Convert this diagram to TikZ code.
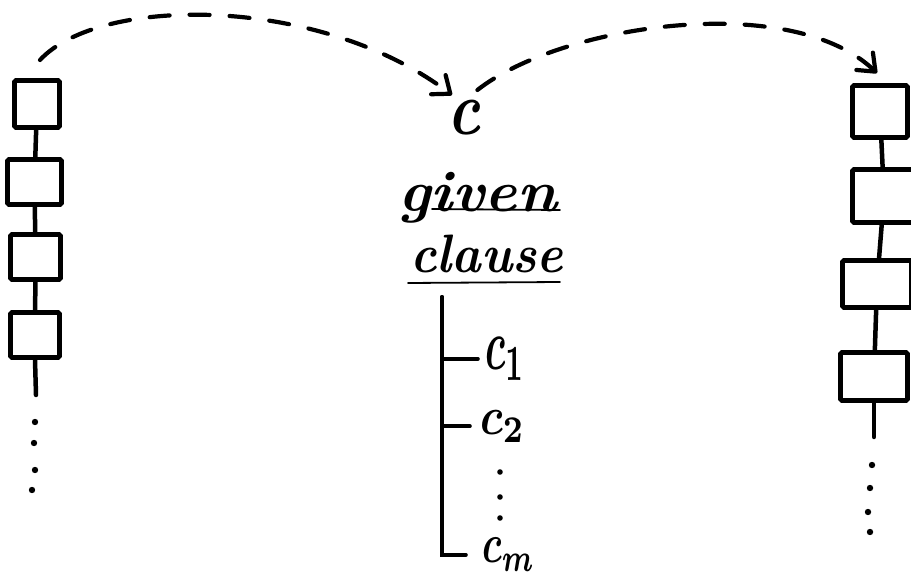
\documentclass[tikz,border=0pt]{standalone}
\usepackage{graphicx}
\usetikzlibrary{arrows.meta,calc}
\tikzset{
  box/.style={draw, line width=4.8pt, inner sep=0pt, rounded corners=1.5pt},
  link/.style={line width=4.5pt, line cap=round},
  dasharrow/.style={line width=4.2pt, line cap=round, dash pattern=on 20pt off 20pt,
    -{Straight Barb[length=15pt,width=24pt,round]}},
  txt/.style={inner sep=0pt, anchor=north west},
  treeline/.style={line width=3.6pt, line cap=round},
  uline/.style={line width=1.8pt, line cap=round},
}
\begin{document}
\begin{tikzpicture}[x=1pt,y=-1pt]
\useasboundingbox (0,0) rectangle (911,577);
\clip (0,0) rectangle (911,577);

% left column
\node[box, minimum width=45pt, minimum height=47pt] (L1) at (37,104) {};
\node[box, minimum width=54pt, minimum height=45pt] (L2) at (34.5,182) {};
\node[box, minimum width=50pt, minimum height=45pt] (L3) at (35.5,257) {};
\node[box, minimum width=49pt, minimum height=45pt] (L4) at (35,335) {};
\coordinate (Lend) at (36,395);
\draw[link] (L1) -- (L2);
\draw[link] (L2) -- (L3);
\draw[link] (L3) -- (L4);
\draw[link] (L4.south) -- (Lend);
\fill (35,422) circle (3.2pt) (34,443) circle (3.2pt) (35,470) circle (3.2pt) (32,490) circle (3.2pt);

% right column
\node[box, minimum width=55pt, minimum height=52pt] (R1) at (880,111.5) {};
\node[box, minimum width=63pt, minimum height=53pt] (R2) at (884,196) {};
\node[box, minimum width=69pt, minimum height=47pt] (R3) at (877,284) {};
\node[box, minimum width=67pt, minimum height=48pt] (R4) at (874,376.5) {};
\coordinate (Rend) at (874,437);
\draw[link] (R1) -- (R2);
\draw[link] (R2) -- (R3);
\draw[link] (R3) -- (R4);
\draw[link] (R4.south) -- (Rend);
\fill (872,465) circle (3.2pt) (870,488) circle (3.2pt) (868,512) circle (3.2pt) (870,532) circle (3.2pt);

% given clause
\node[txt] (c) at (447,100) {\resizebox*{33pt}{35pt}{\bfseries\itshape c}};
\node[txt] (given) at (398,172) {\resizebox*{159pt}{51pt}{\bfseries\itshape given}};
\node[txt] (clause) at (410,235) {\resizebox*{153pt}{38pt}{\bfseries\itshape clause}};
\draw[uline] (432,209) -- (560,210);
\draw[uline] (408,283) -- (560,282);

% dashed arrows
\coordinate (a1s) at (40,60);
\draw[dasharrow] (a1s) .. controls (100,-5) and (320,-5) .. ($(c.north west)+(5,-5)$);
\draw[dasharrow] ($(c.north east)+(-3,-10)$) .. controls (560,25) and (790,-10) .. ($(R1.north)+(-3,-10)$);

% tree
\node[txt] (c1) at (485,337) {\resizebox*{40pt}{43pt}{\boldmath$c_1$}};
\node[txt] (c2) at (480,410) {\resizebox*{45pt}{32pt}{\boldmath$c_2$}};
\node[txt] (cm) at (482,538) {\resizebox*{53pt}{33pt}{\boldmath$c_m$}};
\coordinate (T) at (442,297);
\draw[treeline, shorten >=7pt] (T) |- (c1.west);
\draw[treeline, shorten >=10pt] (T) |- (c2.west);
\draw[treeline, shorten >=16pt] (T) |- (cm.west);
\fill (500,472) circle (2.8pt) (500,497) circle (2.8pt) (500,518) circle (2.8pt);
\end{tikzpicture}
\end{document}
